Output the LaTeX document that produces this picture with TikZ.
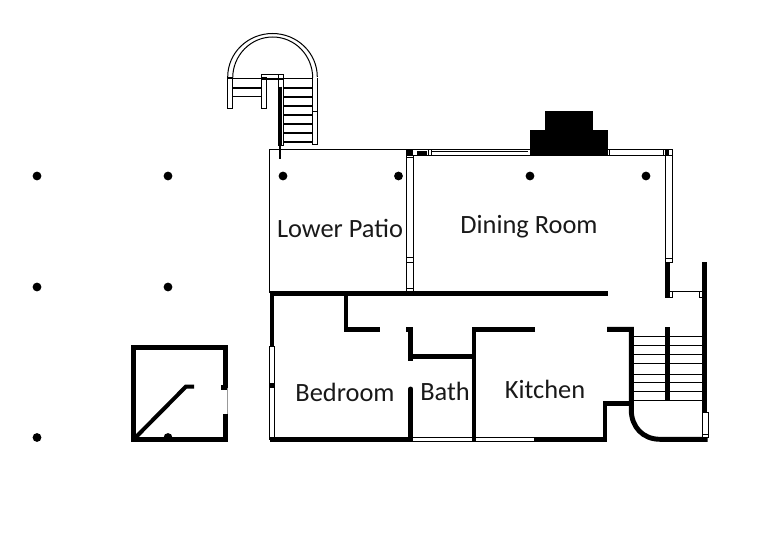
\documentclass[tikz,border=0pt]{standalone}
\usepackage{fontspec}
\setmainfont{Carlito}
\tikzset{
  wall/.style={line width=3.7pt,line cap=butt,line join=miter},
  thin/.style={line width=0.75pt},
  med/.style={line width=1.5pt},
  label/.style={font=\fontsize{19.8}{22}\selectfont,text=black!90,inner sep=0pt,anchor=center},
}
\begin{document}
\begin{tikzpicture}[x=0.75pt,y=-0.75pt]
\useasboundingbox (0,0) rectangle (758,539);
% piers
\foreach \x/\y [count=\i] in {37/176,168/176,37/287,168/287,37/437.5,168/437.5,283/176,398.5/176,530/176,646/176}
  \fill (\x,\y) circle (4.4) coordinate (pier\i);
% ---- upper stair
\draw[thin] (227.7,77) arc[start angle=180,end angle=360,x radius=44.8,y radius=43.5];
\draw[thin] (232.7,78) arc[start angle=180,end angle=360,x radius=40,y radius=41];
\draw[thin] (227.7,78.3) -- (312.7,78.3);
\draw[thin] (227.7,77) rectangle (232.7,108.3);
\draw[thin] (261.5,77) rectangle (266,108.3);
\draw[thin] (261.5,74) rectangle (283.3,79);
\draw[thin] (278,74) rectangle (283.3,145);
\draw[thin] (312.7,78) -- (312.7,144.3) -- (317.3,144.3) -- (317.3,78);
\draw[thin] (312.7,111) -- (317.3,111);
\draw[med] (232.7,88) -- (261.5,88);
\draw[thin] (232.7,96.7) -- (261.5,96.7);
\foreach \y in {88,96.7,105.7,114.7,123.7,132.7,141.7}
  \draw[med] (283.3,\y) -- (312.7,\y);
\draw[line width=2.6pt] (280,86.7) -- (280,145);
\draw[line width=1.6pt] (280,145) -- (280,158.5);
% ---- patio and dining room
\draw[thin] (269.5,293) -- (269.5,149.5) -- (672.3,149.5) -- (672.3,262.5) -- (665.5,262.5) -- (665.5,155.5) -- (413.7,155.5) -- (413.7,293);
\draw[thin] (406.5,149.5) -- (406.5,293);
\draw[thin] (406.5,155.5) -- (413.7,155.5);
\draw[thin] (406.5,157.5) -- (413.7,157.5);
\draw[thin] (406.5,257) -- (413.7,257);
\draw[thin] (406.5,262) -- (413.7,262);
\draw[thin] (406.5,288.5) -- (413.7,288.5);
\draw[thin] (665.5,258.5) -- (672.3,258.5);
\fill (407,150) rectangle (412.5,155);
\fill (416.5,151) rectangle (427,155);
\draw[thin] (428.5,149.5) -- (428.5,155.5);
\draw[thin] (431,149.5) -- (431,155.5);
\draw[thin] (431,151.2) -- (528,151.2);
\draw[thin] (609,149.5) -- (609,155.5);
\fill (664.5,150) rectangle (668.5,155);
\draw[thin] (663.5,149.5) -- (663.5,155.5);
\draw[thin] (666,155.5) -- (672,155.5);
% chimney
\fill (530,130) rectangle (608,155.5);
\fill (545,111) rectangle (592.7,130);
% ---- walls, main floor
\draw[wall] (269.5,293.3) -- (607.5,293.3);
\draw[wall] (272,291) -- (272,346.8);
\draw[wall] (272,383.2) -- (272,388.2);
\draw[thin] (269.7,346.8) rectangle (274.4,439);
\draw[wall] (269.5,439.3) -- (413,439.3);
\draw[wall] (346,293.3) -- (346,329.3) -- (380,329.3);
\draw[wall] (406,329.3) -- (410.8,329.3) -- (410.8,360.5);
\draw[wall] (410.8,356.7) -- (474,356.7);
\draw[wall,line cap=round] (410.8,389) -- (410.8,439.3);
\draw[wall] (535,329.3) -- (474,329.3) -- (474,441.5);
\draw[thin] (413,437.3) -- (535,437.3);
\draw[thin] (413,441.3) -- (535,441.3);
\draw[wall] (534,439.3) -- (605,439.3) -- (605,403.3) -- (631,403.3);
\draw[wall] (607,329.3) -- (631.3,329.3) -- (631.3,410) .. controls (631.3,427) and (643,439.3) .. (660,439.3) -- (707.5,439.3);
% ---- back stair
\foreach \y in {336.7,345.7,354.3,363.3,374,382.7,391.7,400.7}
  \draw[thin] (633,\y) -- (702.5,\y);
\draw[wall] (667.7,327.3) -- (667.7,400.7);
\draw[wall] (704.7,262.3) -- (704.7,413);
\draw[wall] (667.7,262) -- (667.7,297.7);
\draw[thin] (670,291.5) -- (702.5,291.5);
\draw[thin] (670,297.2) -- (672.7,297.2) -- (672.7,291.5);
\draw[thin] (702.5,297.2) -- (699.4,297.2) -- (699.4,291.5);
\draw[thin,fill=white] (702.7,412.7) rectangle (708.3,437.3);
\draw[thin] (702.7,434.3) -- (708.3,434.3);
% ---- shed
\draw[wall] (225.2,387.7) -- (225.2,347.5) -- (133.5,347.5) -- (133.5,439.2) -- (225.2,439.2) -- (225.2,414);
\draw[wall] (221,387.7) -- (227,387.7);
\draw[line width=0.5pt,black!40] (227.2,388) -- (227.2,414);
\draw[line width=3pt] (134,439) -- (186,386.5) -- (194,386.5);
% ---- labels
\node[label] (patio) at (340,228) {Lower Patio};
\node[label] (dining) at (529,226.5) {Dining Room};
\node[label] (bedroom) at (345,392.5) {Bedroom};
\node[label] (bath) at (445,391.5) {Bath};
\node[label] (kitchen) at (545,389.5) {Kitchen};
\end{tikzpicture}
\end{document}
